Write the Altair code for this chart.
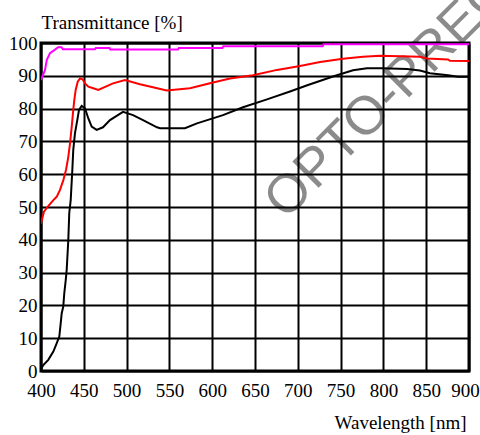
import altair as alt
import pandas as pd

# ---- data ----
wl_black = [400, 402.7, 408.5, 414.4, 418.3, 421.4, 423, 424.2, 426, 427.2, 428.9, 430, 431.9, 433,
            434.7, 436.6, 437.7, 439.7, 442.4, 444.4, 447.5, 451.4, 455.3, 459.2, 465, 472.4, 480.6,
            495.8, 507.5, 519.2, 535.5, 539, 568.2, 582.2, 612.6, 636, 664, 690.9, 711.9, 741.1,
            764.5, 780.8, 798.4, 827.6, 842.7, 854.4, 875.5, 887.1, 900]
t_black = [0.5, 1.8, 3.4, 5.9, 8.4, 10.5, 14.5, 17.6, 19.6, 23.7, 27.7, 30.8, 39.9, 48.1,
           52.1, 61.3, 67.4, 72.5, 76.5, 79.6, 80.8, 80.1, 77.0, 74.5, 73.5, 74.3, 76.5,
           79.0, 78.0, 76.5, 74.3, 74.0, 74.0, 75.5, 78.0, 80.4, 82.8, 85.2, 87.2, 89.8,
           91.7, 92.3, 92.3, 92.1, 91.6, 90.8, 90.2, 89.7, 89.7]

wl_red = [400, 403.5, 408.5, 414.4, 418.3, 422.2, 426.1, 429.2, 431.9, 433.9, 435.9, 437.7, 438.9,
          440.5, 442.9, 445.6, 448.7, 451.4, 455.3, 461.1, 466.9, 484.1, 498.1, 515.6, 530.8,
          546.8, 574, 597.4, 620.8, 647.7, 675.7, 702.6, 726, 752.8, 776.2, 796, 842.7, 850.9,
          875.5, 877.8, 900]
t_red = [45.0, 48.6, 50.3, 52.1, 53.1, 55.2, 58.2, 61.3, 65.3, 69.4, 74.5, 79.6, 82.6,
         85.7, 88.2, 89.2, 88.9, 87.7, 86.7, 86.2, 85.7, 87.7, 88.7, 87.4, 86.5,
         85.5, 86.2, 87.7, 89.2, 90.2, 91.8, 93.0, 94.2, 95.2, 95.8, 96.1, 95.8, 95.3,
         95.0, 94.6, 94.5]

wl_magenta = [400, 404.7, 406.7, 410.5, 416, 420, 424, 425.5, 463, 464, 480, 481, 560, 561,
              612, 613, 729, 730, 900]
t_magenta = [88.7, 91.8, 94.8, 96.9, 97.9, 98.7, 98.7, 98.1, 98.1, 98.5, 98.5, 98.0, 98.0, 98.5,
             98.5, 99.0, 99.0, 99.6, 99.6]

series_names = ["magenta", "red", "black"]
series_colors = ["#ff00ff", "#ff0000", "#000000"]

x_ticks = [400, 450, 500, 550, 600, 650, 700, 750, 800, 850, 900]
y_ticks = [0, 10, 20, 30, 40, 50, 60, 70, 80, 90, 100]

watermark_text = ["OPTO-PREC"]
watermark_wl = [686]
watermark_t = [45.8]

# ---- build table ----
rows = []
for name, wl, t in [("magenta", wl_magenta, t_magenta), ("red", wl_red, t_red), ("black", wl_black, t_black)]:
    for a, b in zip(wl, t):
        rows.append({"series": name, "wl": a, "t": b})
df = pd.DataFrame(rows)
wm = pd.DataFrame({"wl": watermark_wl, "t": watermark_t, "txt": watermark_text})

FONT = "Liberation Serif"

xenc = alt.X("wl:Q",
             scale=alt.Scale(domain=[400, 900], nice=False, zero=False),
             axis=alt.Axis(values=x_ticks, ticks=False, domain=False, grid=True,
                           gridColor="black", gridWidth=2, gridOpacity=1,
                           labelFont=FONT, labelFontSize=19, labelColor="black",
                           labelPadding=10, labelOverlap=False, labelFlush=False,
                           labelOffset={"expr": "datum.value == 900 ? -4 : 0"},
                           title="Wavelength [nm]", titleFont=FONT, titleFontSize=19,
                           titleFontWeight="normal", titleColor="black",
                           titleAlign="right", titleX=425, titleY=57,
                           titleBaseline="alphabetic"))
yenc = alt.Y("t:Q",
             scale=alt.Scale(domain=[0, 100], nice=False),
             axis=alt.Axis(values=y_ticks, ticks=False, domain=False, grid=True,
                           gridColor="black", gridWidth=2, gridOpacity=1,
                           labelFont=FONT, labelFontSize=19, labelColor="black",
                           labelPadding=4, labelBaseline="middle", labelOverlap=False,
                           labelFlush=False,
                           title="Transmittance [%]", titleFont=FONT, titleFontSize=19,
                           titleFontWeight="normal", titleColor="black", titleAngle=0,
                           titleAlign="left", titleX=0, titleY=-15,
                           titleBaseline="alphabetic"))

watermark = alt.Chart(wm).mark_text(
    angle=315, align="left", baseline="alphabetic", fontSize=54,
    font="Liberation Sans", color="black", opacity=0.45
).encode(x=xenc, y=yenc, text="txt:N")

lines = alt.Chart(df).mark_line(strokeWidth=2, clip=True).encode(
    x=xenc, y=yenc,
    color=alt.Color("series:N", scale=alt.Scale(domain=series_names, range=series_colors), legend=None),
    detail="series:N",
)

chart = alt.layer(watermark, lines).properties(
    width=428, height=328,
    autosize=alt.AutoSizeParams(type="none"),
    padding={"left": 41, "top": 43, "right": 11, "bottom": 64},
    background="white",
).configure_view(stroke="black", strokeWidth=3)

chart.save("out.html", embed_options={"renderer": "svg", "actions": False})
